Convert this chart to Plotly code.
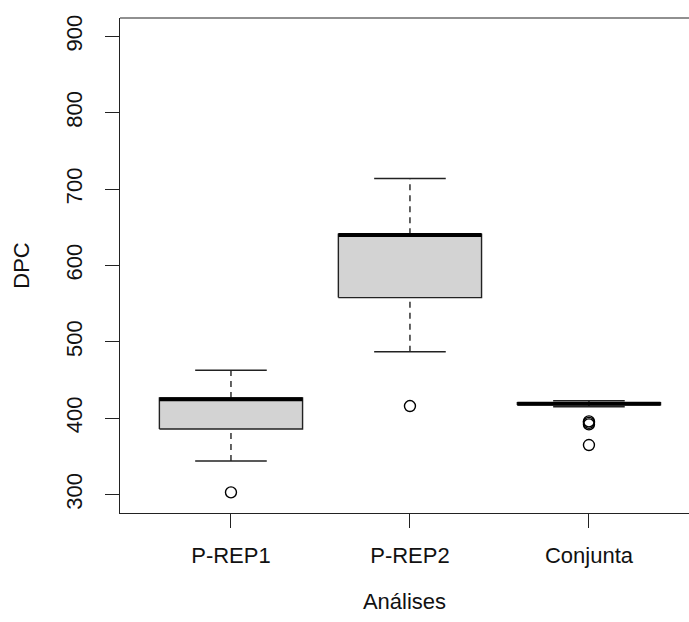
import plotly.graph_objects as go

# Days to flowering (DPC) summary per analysis
categories = ["P-REP1", "P-REP2", "Conjunta"]
lower_whisker = [344, 487, 415]
q1 = [386, 558, 417.5]
median = [425, 640, 419]
q3 = [426.5, 641, 420.5]
upper_whisker = [463, 714, 423]
outliers = [[303], [416], [396, 394, 392, 365]]

y_ticks = [300, 400, 500, 600, 700, 800, 900]

FONT = "Liberation Sans, Arial, Helvetica, sans-serif"
BOX_HALF = 0.4
CAP_HALF = 0.2

fig = go.Figure()
positions = list(range(1, len(categories) + 1))

for pos, lo, a, m, b, hi, outs in zip(positions, lower_whisker, q1, median, q3,
                                       upper_whisker, outliers):
    # whiskers (dashed)
    for y0, y1 in ((b, hi), (lo, a)):
        fig.add_trace(go.Scatter(
            x=[pos, pos], y=[y0, y1], mode="lines",
            line=dict(color="#222222", width=1.4, dash="6px,5px"),
            hoverinfo="skip", showlegend=False))
    # whisker caps
    for yc in (lo, hi):
        fig.add_trace(go.Scatter(
            x=[pos - CAP_HALF, pos + CAP_HALF], y=[yc, yc], mode="lines",
            line=dict(color="#222222", width=1.5),
            hoverinfo="skip", showlegend=False))
    # box
    fig.add_trace(go.Scatter(
        x=[pos - BOX_HALF, pos + BOX_HALF, pos + BOX_HALF, pos - BOX_HALF, pos - BOX_HALF],
        y=[a, a, b, b, a], mode="lines", fill="toself", fillcolor="#D3D3D3",
        line=dict(color="#222222", width=1.4),
        hoverinfo="skip", showlegend=False))
    # median
    fig.add_trace(go.Scatter(
        x=[pos - BOX_HALF, pos + BOX_HALF], y=[m, m], mode="lines",
        line=dict(color="black", width=4),
        hoverinfo="skip", showlegend=False))
    # outliers
    fig.add_trace(go.Scatter(
        x=[pos] * len(outs), y=outs, mode="markers",
        marker=dict(symbol="circle-open", size=11, color="black",
                    line=dict(width=1.4, color="black")),
        hoverinfo="skip", showlegend=False))

# top edge of the plot frame
fig.add_shape(type="line", xref="paper", yref="paper", x0=0, x1=1, y0=1, y1=1,
              line=dict(color="#222222", width=1.2))

fig.update_layout(
    width=689, height=622,
    margin=dict(l=120, r=0, t=18, b=109),
    plot_bgcolor="white", paper_bgcolor="white",
    font=dict(family=FONT, size=22, color="#111111"),
    xaxis=dict(
        range=[0.38, 3.559], tickvals=positions, ticktext=categories,
        showgrid=False, zeroline=False, showline=True, linecolor="#222222",
        linewidth=1.2, ticks="outside", ticklen=14, tickcolor="#222222",
        tickwidth=1.2, ticklabelstandoff=8,
        title=dict(text="Análises", standoff=27, font=dict(size=22)),
    ),
    yaxis=dict(
        range=[276, 924], tickvals=y_ticks,
        showgrid=False, zeroline=False, showline=True, linecolor="#222222",
        linewidth=1.2, ticks="outside", ticklen=14, tickcolor="#222222",
        tickwidth=1.2, tickangle=-90, ticklabelstandoff=14,
        title=dict(text="DPC", standoff=26, font=dict(size=22)),
    ),
)

fig.write_html("out.html")
